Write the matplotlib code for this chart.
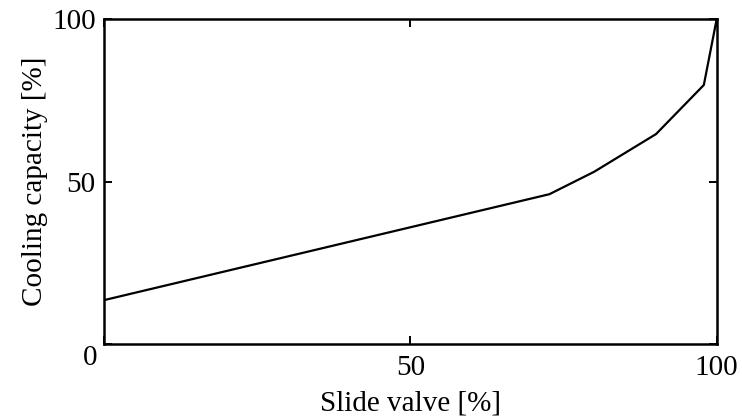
import matplotlib
matplotlib.use("Agg")
import matplotlib.pyplot as plt

# Cooling capacity versus slide valve position
slide_valve = [0, 72.7, 80.0, 90.1, 97.9, 100]
cooling_capacity = [13.5, 46.1, 53.0, 64.6, 79.7, 100]

x_ticks = [0, 50, 100]
x_tick_labels = ["", "50", "100"]
y_ticks = [0, 50, 100]
y_tick_labels = ["", "50", "100"]

plt.rcParams["font.family"] = ["Liberation Serif", "DejaVu Serif"]

fig = plt.figure(figsize=(7.42, 4.18), dpi=100)
ax = fig.add_axes([0.1402, 0.177, 0.8257, 0.7775])

ax.plot(slide_valve, cooling_capacity, color="black", linewidth=1.6)

ax.set_xlim(0, 100)
ax.set_ylim(0, 100)
ax.set_xticks(x_ticks)
ax.set_xticklabels(x_tick_labels)
ax.set_yticks(y_ticks)
ax.set_yticklabels(y_tick_labels)
ax.tick_params(direction="in", length=6, width=1.4, labelsize=21,
               top=True, right=True, pad=6, colors="black")
ax.tick_params(axis="x", pad=8)

for sp in ax.spines.values():
    sp.set_linewidth(1.8)
    sp.set_color("black")

# shared origin label at the lower-left corner
ax.text(-0.023, -0.042, "0", transform=ax.transAxes, fontsize=21,
        ha="center", va="center")

ax.set_xlabel("Slide valve [%]", fontsize=21, labelpad=7)
ax.set_ylabel("Cooling capacity [%]", fontsize=21, labelpad=3)

fig.savefig("out.png", dpi=100)
